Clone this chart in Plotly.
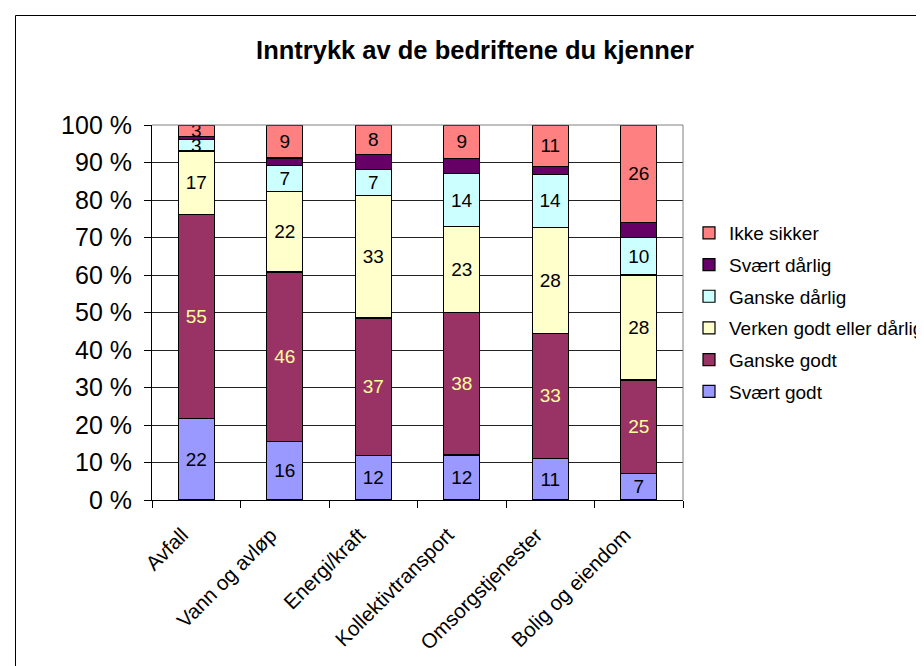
import plotly.graph_objects as go

categories = ["Avfall", "Vann og avløp", "Energi/kraft", "Kollektivtransport",
              "Omsorgstjenester", "Bolig og eiendom"]
series_names = ["Svært godt", "Ganske godt", "Verken godt eller dårlig",
                "Ganske dårlig", "Svært dårlig", "Ikke sikker"]
svaert_godt = [22, 16, 12, 12, 11, 7]
ganske_godt = [55, 46, 37, 38, 33, 25]
verken = [17, 22, 33, 23, 28, 28]
ganske_darlig = [3, 7, 7, 14, 14, 10]
svaert_darlig = [1, 2, 4, 4, 2, 4]
ikke_sikker = [3, 9, 8, 9, 11, 26]
y_ticks = [0, 10, 20, 30, 40, 50, 60, 70, 80, 90, 100]
y_tick_labels = [f"{v} %" for v in y_ticks]

series_values = [svaert_godt, ganske_godt, verken, ganske_darlig, svaert_darlig, ikke_sikker]
colors = ["#9999FF", "#993366", "#FFFFCC", "#CCFFFF", "#660066", "#FF8080"]
label_colors = ["#000000", "#FFFF99", "#000000", "#000000", None, "#000000"]

FONT = "Liberation Sans, Arial, sans-serif"

fig = go.Figure()
n = len(series_names)
for i, (name, vals, col, lc) in enumerate(zip(series_names, series_values, colors, label_colors)):
    show_labels = lc is not None
    fig.add_trace(go.Bar(
        name=name,
        x=categories,
        y=vals,
        marker=dict(color=col, line=dict(color="#000000", width=1.2)),
        text=vals if show_labels else None,
        texttemplate="%{text}" if show_labels else None,
        textposition="inside" if show_labels else "none",
        insidetextanchor="middle",
        textangle=0,
        textfont=dict(family=FONT, size=19, color=lc if lc else "#000"),
        legendgroup=name,
        legendrank=n - i,
        hoverinfo="name+y",
    ))

# The page body has an 8px margin; figure is sized so that page == 924x666.
OFF = 8
W, H = 924 - OFF, 666 - OFF
L, T, W_PLOT, H_PLOT = 152 - OFF, 125 - OFF, 531, 375


def px_x(p):  # page pixel -> paper x
    return (p - OFF - L) / W_PLOT


def px_y(p):  # page pixel -> paper y
    return (T + H_PLOT - (p - OFF)) / H_PLOT


def cx(p):  # page pixel -> container x
    return (p - OFF) / W


def cy(p):  # page pixel -> container y
    return 1 - (p - OFF) / H


fig.update_layout(
    width=W, height=H,
    barmode="stack",
    barnorm="percent",
    bargap=0.59,
    plot_bgcolor="#FFFFFF",
    paper_bgcolor="#FFFFFF",
    margin=dict(l=L, r=W - L - W_PLOT, t=T, b=H - T - H_PLOT, pad=0, autoexpand=False),
    font=dict(family=FONT, size=16, color="#000000"),
    title=dict(text="<b>Inntrykk av de bedriftene du kjenner</b>",
               x=cx(475), xanchor="center",
               y=cy(50), yanchor="middle",
               font=dict(family=FONT, size=25.5, color="#000000")),
    uniformtext=dict(minsize=19, mode="show"),
    showlegend=True,
    legend=dict(
        xref="container", yref="container",
        x=cx(689), xanchor="left",
        y=cy(214), yanchor="top",
        traceorder="grouped",
        tracegroupgap=4,
        font=dict(family=FONT, size=19, color="#000000"),
        bgcolor="rgba(0,0,0,0)",
        itemclick=False, itemdoubleclick=False,
    ),
    xaxis=dict(
        tickangle=-45,
        tickfont=dict(family=FONT, size=20.5, color="#000000"),
        showline=True, linecolor="#000000", linewidth=1,
        ticks="outside", ticklen=7, tickcolor="#000000",
        tickson="boundaries",
        showgrid=False,
        ticklabelstandoff=14,
        ticklabelshift=-14,
    ),
    yaxis=dict(
        range=[0, 100],
        tickvals=y_ticks,
        ticktext=y_tick_labels,
        tickfont=dict(family=FONT, size=25, color="#000000"),
        showline=True, linecolor="#000000", linewidth=1,
        ticks="outside", ticklen=7, tickcolor="#000000",
        showgrid=True, gridcolor="#222222", gridwidth=1,
        zeroline=False,
        ticklabelstandoff=7,
    ),
    shapes=[
        dict(type="line", xref="paper", yref="paper", x0=1, x1=1, y0=0, y1=1,
             line=dict(color="#808080", width=1)),
        dict(type="line", xref="paper", yref="paper", x0=0, x1=1, y0=1, y1=1,
             line=dict(color="#808080", width=1)),
        dict(type="line", xref="paper", yref="paper",
             x0=px_x(15.5), x1=px_x(15.5), y0=px_y(700), y1=px_y(15.5),
             line=dict(color="#000000", width=1)),
        dict(type="line", xref="paper", yref="paper",
             x0=px_x(15.5), x1=px_x(960), y0=px_y(15.5), y1=px_y(15.5),
             line=dict(color="#000000", width=1)),
    ],
)

fig.write_html("out.html")
